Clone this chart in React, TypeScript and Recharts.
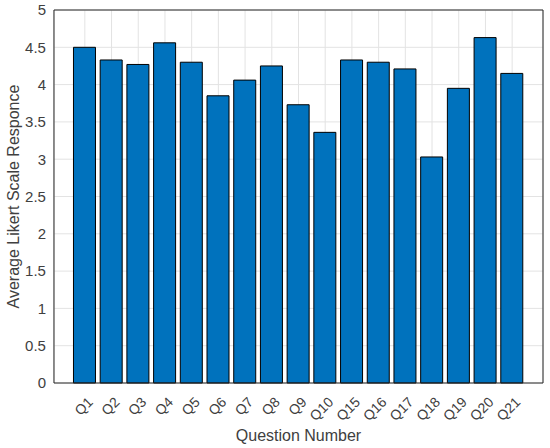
import React from 'react';
import { BarChart, Bar, XAxis, YAxis, CartesianGrid } from 'recharts';

const questions = [
  'Q1', 'Q2', 'Q3', 'Q4', 'Q5', 'Q6', 'Q7', 'Q8', 'Q9', 'Q10',
  'Q15', 'Q16', 'Q17', 'Q18', 'Q19', 'Q20', 'Q21',
];
const likertMeans = [
  4.5, 4.33, 4.27, 4.56, 4.3, 3.85, 4.06, 4.25, 3.73, 3.36,
  4.33, 4.3, 4.21, 3.03, 3.95, 4.63, 4.15,
];
const yTicks = [0, 0.5, 1, 1.5, 2, 2.5, 3, 3.5, 4, 4.5, 5];

// minor tick marks (decoration only, matlab style)
const yMinorTicks = Array.from({ length: 51 }, (_, i) => Math.round(i * 10) / 100);
const xMinorTicks = Array.from({ length: 91 }, (_, i) => Math.round((i * 0.2 - 1) * 100) / 100);

const data = questions.map((q, i) => ({ q, mean: likertMeans[i] }));

const BAR_BLUE = '#0072BD';
const INK = '#262626';
const TEXT = '#404040';
const GRID = '#e3e3e3';
const PAD = 17.5;
const X_MINOR_DOMAIN = [-1.155, 17.155];
// axes of size 0 are skipped by recharts, so the tick-only axes get a hair of room
const HAIR = 0.01;

const QTick = (props: any) => {
  const { x, y, payload } = props;
  const ax = x + 9;
  const ay = y + 12;
  return (
    <text
      x={ax}
      y={ay}
      transform={`rotate(-45 ${ax} ${ay})`}
      textAnchor="end"
      fill={TEXT}
      fontSize={14}
    >
      {payload.value}
    </text>
  );
};

const YTitle = (props: any) => {
  const { viewBox } = props;
  const cx = viewBox.x + 13;
  const cy = viewBox.y + viewBox.height / 2;
  return (
    <text
      x={cx}
      y={cy}
      transform={`rotate(-90 ${cx} ${cy})`}
      textAnchor="middle"
      dominantBaseline="central"
      fill={TEXT}
      fontSize={16}
    >
      Average Likert Scale Responce
    </text>
  );
};

export default function App() {
  return (
    <div
      style={{
        position: 'absolute',
        left: 0,
        top: 0,
        width: 550,
        height: 448,
        background: '#fff',
        fontFamily: '"Liberation Sans", Arial, sans-serif',
      }}
    >
      <BarChart
        width={550}
        height={448}
        data={data}
        margin={{ top: 10, right: 7, left: 0, bottom: 0 }}
        barCategoryGap={0}
      >
        <CartesianGrid stroke={GRID} strokeWidth={1} />

        {/* inward tick marks, tiny axes first so they sit on the frame */}
        <XAxis
          xAxisId="bMajor"
          dataKey="q"
          height={HAIR}
          mirror
          tick={false}
          axisLine={false}
          tickSize={5}
          tickLine={{ stroke: INK }}
          padding={{ left: PAD, right: PAD }}
        />
        <XAxis
          xAxisId="bMinor"
          type="number"
          domain={X_MINOR_DOMAIN}
          allowDataOverflow
          ticks={xMinorTicks}
          height={HAIR}
          mirror
          tick={false}
          axisLine={false}
          tickSize={3}
          tickLine={{ stroke: INK }}
        />
        <XAxis
          dataKey="q"
          height={65}
          interval={0}
          tick={<QTick />}
          tickLine={false}
          axisLine={{ stroke: INK }}
          padding={{ left: PAD, right: PAD }}
          label={{
            value: 'Question Number',
            position: 'insideBottom',
            offset: 7,
            fill: TEXT,
            fontSize: 16,
          }}
        />
        <XAxis
          xAxisId="tMajor"
          orientation="top"
          dataKey="q"
          height={HAIR}
          mirror
          tick={false}
          axisLine={{ stroke: INK }}
          tickSize={5}
          tickLine={{ stroke: INK }}
          padding={{ left: PAD, right: PAD }}
        />
        <XAxis
          xAxisId="tMinor"
          orientation="top"
          type="number"
          domain={X_MINOR_DOMAIN}
          allowDataOverflow
          ticks={xMinorTicks}
          height={HAIR}
          mirror
          tick={false}
          axisLine={false}
          tickSize={3}
          tickLine={{ stroke: INK }}
        />

        <YAxis
          yAxisId="lMajor"
          domain={[0, 5]}
          ticks={yTicks}
          width={HAIR}
          mirror
          tick={false}
          axisLine={false}
          tickSize={5}
          tickLine={{ stroke: INK }}
        />
        <YAxis
          yAxisId="lMinor"
          domain={[0, 5]}
          ticks={yMinorTicks}
          width={HAIR}
          mirror
          tick={false}
          axisLine={false}
          tickSize={3}
          tickLine={{ stroke: INK }}
        />
        <YAxis
          domain={[0, 5]}
          ticks={yTicks}
          width={54 - 2 * HAIR}
          tickLine={false}
          axisLine={{ stroke: INK }}
          tick={{ fill: TEXT, fontSize: 15 }}
          tickFormatter={(v: number) => String(v)}
          label={{ content: <YTitle /> }}
        />
        <YAxis
          yAxisId="rMajor"
          orientation="right"
          domain={[0, 5]}
          ticks={yTicks}
          width={HAIR}
          mirror
          tick={false}
          axisLine={{ stroke: INK }}
          tickSize={5}
          tickLine={{ stroke: INK }}
        />
        <YAxis
          yAxisId="rMinor"
          orientation="right"
          domain={[0, 5]}
          ticks={yMinorTicks}
          width={HAIR}
          mirror
          tick={false}
          axisLine={false}
          tickSize={3}
          tickLine={{ stroke: INK }}
        />

        <Bar
          dataKey="mean"
          fill={BAR_BLUE}
          stroke="#000"
          strokeWidth={1}
          barSize={22}
          isAnimationActive={false}
        />
      </BarChart>
    </div>
  );
}
